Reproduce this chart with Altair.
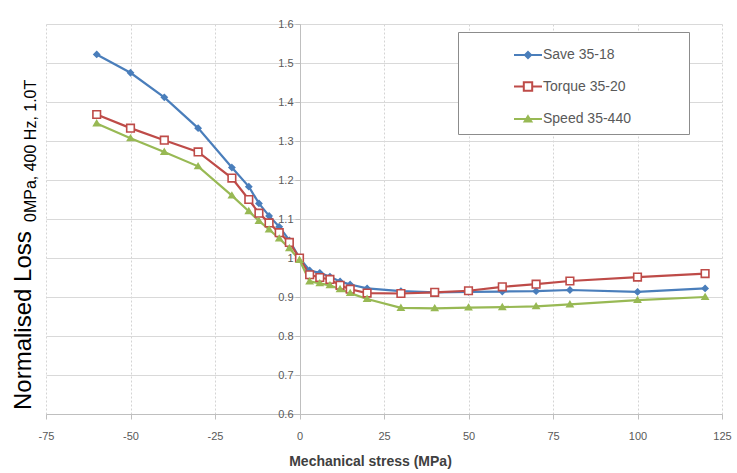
import altair as alt
import pandas as pd

# ---- data ----
stress = [-60, -50, -40, -30, -20, -15, -12, -9, -6, -3, 0, 3, 6, 9, 12, 15, 20,
          30, 40, 50, 60, 70, 80, 100, 120]
save = [1.522, 1.475, 1.412, 1.333, 1.232, 1.183, 1.14, 1.108, 1.08, 1.045, 1.0,
        0.968, 0.962, 0.952, 0.94, 0.932, 0.922, 0.915, 0.912, 0.913, 0.914, 0.915,
        0.918, 0.913, 0.922]
torque = [1.368, 1.333, 1.302, 1.272, 1.205, 1.15, 1.115, 1.09, 1.065, 1.04, 1.0,
          0.957, 0.95, 0.945, 0.93, 0.92, 0.91, 0.909, 0.912, 0.916, 0.926, 0.933,
          0.941, 0.951, 0.96]
speed = [1.345, 1.307, 1.272, 1.235, 1.16, 1.12, 1.095, 1.073, 1.05, 1.025, 0.995,
         0.94, 0.935, 0.93, 0.92, 0.91, 0.895, 0.872, 0.871, 0.873, 0.874, 0.876,
         0.881, 0.892, 0.90]

series_names = ["Save 35-18", "Torque 35-20", "Speed 35-440"]
x_ticks = [-75, -50, -25, 0, 25, 50, 75, 100, 125]
y_ticks = [0.6, 0.7, 0.8, 0.9, 1.0, 1.1, 1.2, 1.3, 1.4, 1.5, 1.6]
y_title_main = ["Normalised Loss"]
y_title_sub = ["0MPa, 400 Hz, 1.0T"]

# ---- styling ----
colors = ["#4a7ebb", "#be4b48", "#98b954"]
fills = ["#4a7ebb", "#ffffff", "#98b954"]
marker_paths = ["M0,-0.7L0.7,0L0,0.7L-0.7,0Z",
                "M-0.95,-0.95H0.95V0.95H-0.95Z",
                "M0,-0.7L0.75,0.55L-0.75,0.55Z"]
legend_paths = ["M-1,0H1M0,-0.22L0.22,0L0,0.22L-0.22,0Z",
                "M-1,0H-0.3M0.3,0H1M-0.3,-0.3H0.3V0.3H-0.3Z",
                "M-1,0H1M0,-0.2L0.24,0.17L-0.24,0.17Z"]

FONT = "Liberation Sans"
GRAY = "#595959"
BLANK_PAD = "\u2800" * 5   # blank (non-whitespace) glyphs that widen the legend box

rows = []
for name, vals in zip(series_names, [save, torque, speed]):
    for s, v in zip(stress, vals):
        rows.append({"stress": s, "loss": v, "series": name, "series_l": name})
df = pd.DataFrame(rows)

x_enc = alt.X(
    "stress:Q",
    scale=alt.Scale(domain=[-75, 125], nice=False, zero=False),
    axis=alt.Axis(values=x_ticks, labelExpr="'' + datum.value",
                  title="Mechanical stress (MPa)", grid=True,
                  gridColor="#d4d4d4", gridDash=[2, 2], domainColor="#bfbfbf",
                  tickColor="#bfbfbf", tickSize=5, labelPadding=11,
                  labelFlush=False, labelOverlap=False,
                  labelFont=FONT, labelFontSize=11, labelColor=GRAY,
                  titleFont=FONT, titleFontSize=14, titleFontWeight="bold",
                  titleColor="#404040", titleX=324, titleY=47,
                  titleAlign="center", titleBaseline="middle"),
)
y_enc = alt.Y(
    "loss:Q",
    scale=alt.Scale(domain=[0.6, 1.6], nice=False, zero=False),
    axis=alt.Axis(values=y_ticks, format="~g", title=None, offset=-254,
                  grid=True, gridColor="#d9d9d9", domainColor="#bfbfbf",
                  tickColor="#bfbfbf", tickSize=5, labelPadding=2,
                  labelFlush=False, labelOverlap=False,
                  labelFont=FONT, labelFontSize=11, labelColor=GRAY),
)

base = alt.Chart(df)

lines = base.mark_line(strokeWidth=2.2).encode(
    x=x_enc, y=y_enc,
    stroke=alt.Stroke("series:N", scale=alt.Scale(domain=series_names, range=colors), legend=None),
)

points = base.mark_point(size=64, opacity=1, fillOpacity=1, strokeWidth=1.6).encode(
    x=x_enc, y=y_enc,
    stroke=alt.Stroke("series:N", scale=alt.Scale(domain=series_names, range=colors), legend=None),
    fill=alt.Fill("series:N", scale=alt.Scale(domain=series_names, range=fills), legend=None),
    shape=alt.Shape("series:N", scale=alt.Scale(domain=series_names, range=marker_paths), legend=None),
)

# an invisible left-hand title reserves the empty space at the left of the legend box
leg = alt.Legend(title="WWWW", titleOrient="left", titleOpacity=0, titleFont=FONT,
                 titleFontSize=12, titlePadding=1,
                 orient="none", legendX=412, legendY=8,
                 fillColor="white", strokeColor="#8c8c8c", padding=8,
                 rowPadding=8.5, symbolSize=784, symbolStrokeWidth=2,
                 labelOffset=0, labelLimit=500,
                 labelFont=FONT, labelFontSize=14, labelColor=GRAY,
                 labelExpr="datum.label + '" + BLANK_PAD + "'")

legend_layer = base.mark_point(size=0, opacity=1, fillOpacity=1, strokeWidth=2).encode(
    x=x_enc, y=y_enc,
    stroke=alt.Stroke("series_l:N", scale=alt.Scale(domain=series_names, range=colors), legend=leg),
    fill=alt.Fill("series_l:N", scale=alt.Scale(domain=series_names, range=fills), legend=leg),
    shape=alt.Shape("series_l:N", scale=alt.Scale(domain=series_names, range=legend_paths), legend=leg),
)

title_main = alt.Chart(pd.DataFrame({"t": y_title_main})).mark_text(
    angle=270, align="left", baseline="alphabetic", font=FONT, fontSize=24, color="black"
).encode(text="t:N", x=alt.value(-15), y=alt.value(386))

title_sub = alt.Chart(pd.DataFrame({"t": y_title_sub})).mark_text(
    angle=270, align="left", baseline="alphabetic", font=FONT, fontSize=16, color="black"
).encode(text="t:N", x=alt.value(-10), y=alt.value(198))

chart = alt.layer(lines, points, legend_layer, title_main, title_sub).resolve_scale(
    stroke="independent", fill="independent", shape="independent"
).resolve_legend(
    stroke="independent", fill="independent", shape="independent"
).properties(
    width=676, height=390,
    autosize=alt.AutoSizeParams(type="none"),
    padding={"left": 46, "top": 24, "right": 15, "bottom": 59},
    background="white",
).configure_view(stroke=None)

chart.save("out.html", embed_options={"renderer": "svg", "actions": False})
